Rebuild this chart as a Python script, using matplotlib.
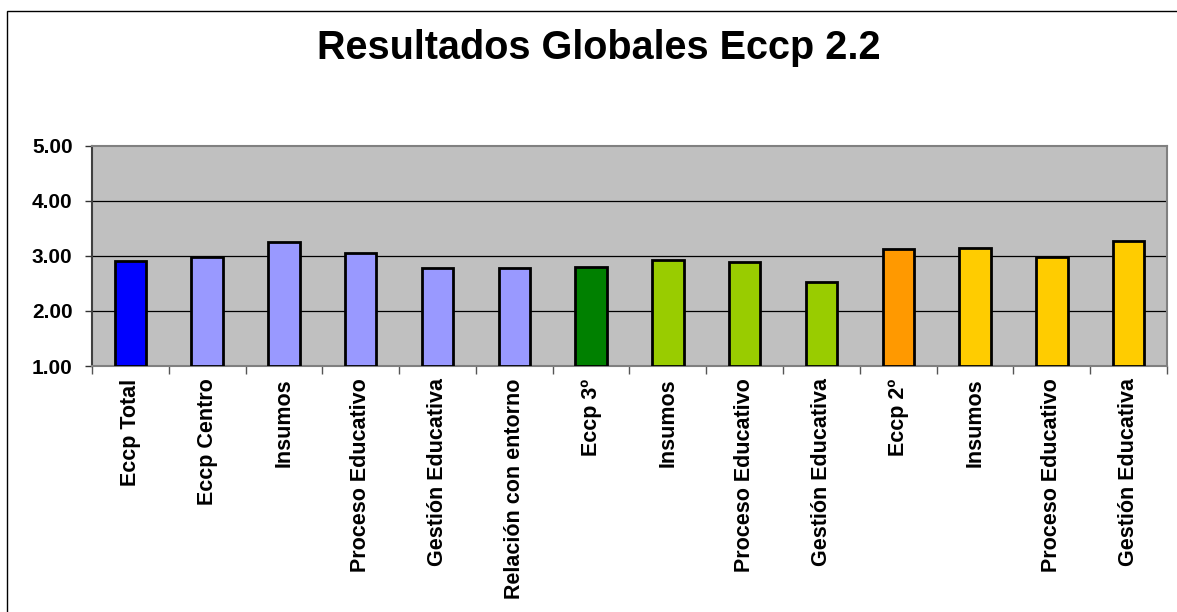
import matplotlib.pyplot as plt
from matplotlib.patches import Rectangle
import numpy as np

# Resultados globales Eccp 2.2 -- bar chart with grouped colours

categories = ["Eccp Total", "Eccp Centro", "Insumos", "Proceso Educativo",
              "Gestión Educativa", "Relación con entorno", "Eccp 3º", "Insumos",
              "Proceso Educativo", "Gestión Educativa", "Eccp 2º", "Insumos",
              "Proceso Educativo", "Gestión Educativa"]
values = [2.91, 2.97, 3.25, 3.05, 2.78, 2.78, 2.79, 2.93, 2.89, 2.53,
          3.12, 3.14, 2.97, 3.26]
colors = ["#0000FF", "#9999FF", "#9999FF", "#9999FF", "#9999FF", "#9999FF",
          "#008000", "#99CC00", "#99CC00", "#99CC00",
          "#FF9900", "#FFCC00", "#FFCC00", "#FFCC00"]
yticks = [1.0, 2.0, 3.0, 4.0, 5.0]

plt.rcParams['font.family'] = ['Liberation Sans', 'DejaVu Sans']

W, H = 1177, 612
fig = plt.figure(figsize=(W / 100, H / 100), dpi=100)

# outer chart border (only left/top visible in the original)
fig.patches.append(Rectangle((7 / W, -0.1), 1.2, 1 - 11 / H + 0.1,
                             transform=fig.transFigure, fill=False,
                             edgecolor='black', linewidth=1.0))

ax = fig.add_axes([92 / W, 1 - 366 / H, (1167 - 92) / W, (366 - 145.5) / H])
ax.set_facecolor('#C0C0C0')

x = np.arange(len(categories))
ax.bar(x, [v - 1.0 for v in values], bottom=1.0, width=0.41, color=colors,
       edgecolor='black', linewidth=2.0, zorder=3)

ax.set_xlim(-0.5, len(categories) - 0.5)
ax.set_ylim(1.0, 5.0)
ax.set_yticks(yticks)
ax.set_yticklabels(["%.2f" % t for t in yticks], fontsize=15, fontweight='bold')
for t in yticks[1:-1]:
    ax.axhline(t, color='black', linewidth=0.9, zorder=1)

ax.set_xticks(x)
ax.set_xticklabels(categories, rotation=90, fontsize=15.5, fontweight='bold')
ax.tick_params(axis='x', which='major', length=0, pad=9)
ax.set_xticks(np.arange(len(categories) + 1) - 0.5, minor=True)
ax.tick_params(axis='x', which='minor', length=6, color='#555555', width=1)
ax.tick_params(axis='y', length=5, color='#333333', width=1, pad=9)

for side in ['top', 'right', 'bottom']:
    ax.spines[side].set_color('#808080')
    ax.spines[side].set_linewidth(1.5)
ax.spines['left'].set_color('#404040')
ax.spines['left'].set_linewidth(1.5)

fig.text(599 / W, 1 - 48 / H, "Resultados Globales Eccp 2.2", ha='center',
         va='center', fontsize=28.5, fontweight='bold')

fig.savefig("out.png", dpi=100)
